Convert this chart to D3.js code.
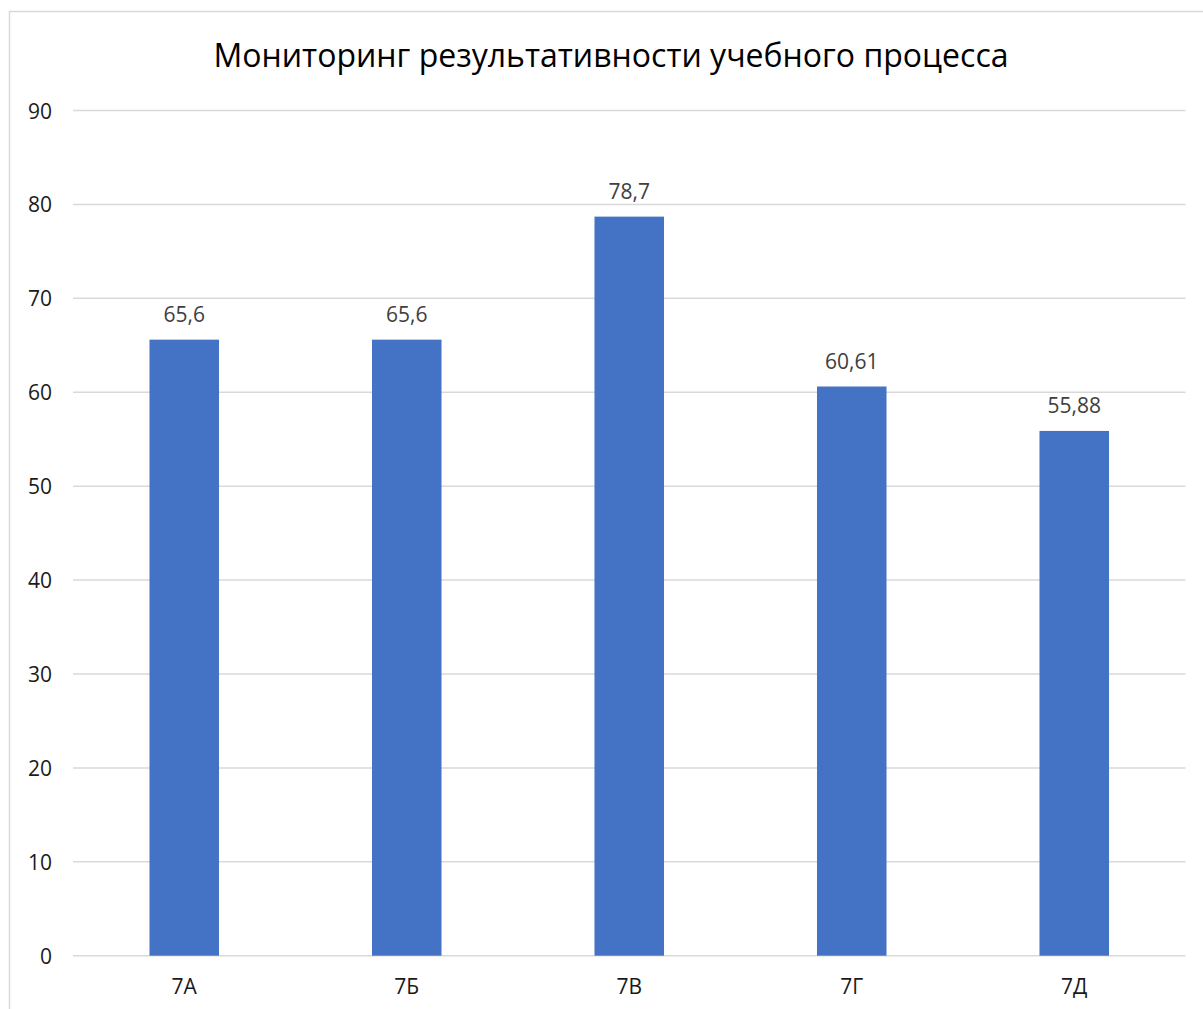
<!DOCTYPE html>
<html><head><meta charset="utf-8">
<script src="https://cdn.jsdelivr.net/npm/d3@7"></script>
<style>body{margin:0;background:#fff;} svg{display:block;}</style>
</head><body>
<script>
const title = "Мониторинг результативности учебного процесса";
const categories = ["7А","7Б","7В","7Г","7Д"];
const values = [65.6, 65.6, 78.7, 60.61, 55.88];
const valueLabels = ["65,6","65,6","78,7","60,61","55,88"];
const yTicks = [0,10,20,30,40,50,60,70,80,90];

const W = 1203, H = 1009;
const svg = d3.select("body").append("svg").attr("width", W).attr("height", H);
const font = "'Open Sans', 'Noto Sans', sans-serif";

// chart border
svg.append("path").attr("d", `M9.5,${H} V11.5 H${W}`).attr("fill","none").attr("stroke","#d9d9d9").attr("stroke-width",1.5);

const pLeft = 73, pRight = 1185.5, pTop = 110.5, pBottom = 955.7;
const x = d3.scaleBand().domain(categories).range([pLeft, pRight]).paddingInner(0.6875).paddingOuter(0.34375);
const y = d3.scaleLinear().domain([0, 90]).range([pBottom, pTop]);

// gridlines
svg.append("g").selectAll("line").data(yTicks).join("line")
  .attr("x1", pLeft).attr("x2", pRight)
  .attr("y1", d => y(d)).attr("y2", d => y(d))
  .attr("stroke", "#d9d9d9").attr("stroke-width", 1.5);

// y labels
const yAxis = d3.axisLeft(y).tickValues(yTicks).tickSize(0).tickPadding(0);
const gy = svg.append("g").attr("transform", `translate(52,0)`).call(yAxis);
gy.select(".domain").remove();
gy.selectAll("text").attr("font-family", font).attr("font-size", 21).attr("fill", "#1a1a1a").attr("text-anchor","end").attr("dy","0.36em");

// bars
svg.append("g").selectAll("rect").data(values).join("rect")
  .attr("x", (d,i) => x(categories[i]))
  .attr("width", x.bandwidth())
  .attr("y", d => y(d))
  .attr("height", d => y(0) - y(d))
  .attr("fill", "#4472c4");

// x labels
const xAxis = d3.axisBottom(x).tickSize(0).tickPadding(0);
const gx = svg.append("g").attr("transform", `translate(0,994)`).call(xAxis);
gx.select(".domain").remove();
gx.selectAll("text").attr("font-family", font).attr("font-size", 21).attr("fill", "#1a1a1a").attr("dy","0").attr("y", 0);

// value labels
svg.append("g").selectAll("text").data(values).join("text")
  .attr("x", (d,i) => x(categories[i]) + x.bandwidth()/2)
  .attr("y", d => y(d) - 18)
  .attr("text-anchor", "middle")
  .attr("font-family", font).attr("font-size", 21).attr("fill", "#404040")
  .text((d,i) => valueLabels[i]);

// title
svg.append("text").attr("x", 611).attr("y", 67).attr("text-anchor","middle")
  .attr("font-family", font).attr("font-size", 32).attr("fill", "#000")
  .text(title);
</script>
</body></html>
